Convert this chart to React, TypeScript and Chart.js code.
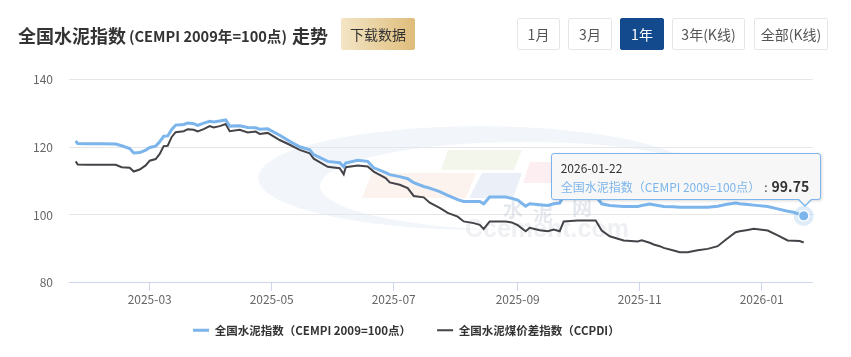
import React, { useEffect, useRef } from "react";
import { Chart, registerables } from "chart.js";

Chart.register(...registerables);

const FONT = '"Noto Sans CJK SC", "Noto Sans", sans-serif';

// ---------------- data ----------------
const dates = [
  "2025-01-23","2025-01-24","2025-01-29","2025-02-05","2025-02-12","2025-02-15","2025-02-19","2025-02-21","2025-02-24","2025-02-27",
  "2025-03-01","2025-03-04","2025-03-06","2025-03-08","2025-03-10","2025-03-12","2025-03-14","2025-03-18","2025-03-20","2025-03-23",
  "2025-03-25","2025-03-28","2025-03-31","2025-04-02","2025-04-05","2025-04-08","2025-04-10","2025-04-15","2025-04-19","2025-04-23",
  "2025-04-25","2025-04-29","2025-05-05","2025-05-10","2025-05-15","2025-05-20","2025-05-22","2025-05-29","2025-06-04","2025-06-06",
  "2025-06-07","2025-06-13","2025-06-18","2025-06-21","2025-06-27","2025-06-29","2025-07-04","2025-07-08","2025-07-11","2025-07-16",
  "2025-07-19","2025-07-24","2025-07-28","2025-08-02","2025-08-05","2025-08-10","2025-08-13","2025-08-15","2025-08-18","2025-08-26",
  "2025-08-29","2025-09-01","2025-09-05","2025-09-07","2025-09-12","2025-09-16","2025-09-19","2025-09-22","2025-09-24","2025-10-01",
  "2025-10-10","2025-10-13","2025-10-17","2025-10-24","2025-10-31","2025-11-02","2025-11-06","2025-11-08","2025-11-11","2025-11-13",
  "2025-11-18","2025-11-21","2025-11-25","2025-11-30","2025-12-05","2025-12-10","2025-12-14","2025-12-19","2025-12-21","2025-12-25",
  "2025-12-28","2026-01-04","2026-01-09","2026-01-14","2026-01-17","2026-01-20","2026-01-22",
];

const cempi = [
  121.8,121.1,121.0,121.0,120.9,120.4,119.6,118.3,118.4,119.1,
  119.9,120.3,121.6,123.2,123.3,125.2,126.5,126.7,127.1,126.9,
  126.4,127.1,127.6,127.4,127.7,128.0,126.2,126.3,125.8,125.7,
  125.3,125.4,123.5,121.7,120.1,119.2,117.8,115.8,115.4,114.2,
  115.3,116.1,115.8,113.9,112.5,111.9,111.3,110.7,109.5,108.4,
  107.9,106.9,105.8,104.5,104.0,104.0,104.0,103.3,105.3,105.3,
  104.9,104.4,102.6,103.3,103.0,102.8,103.3,103.5,105.6,105.8,
  105.6,103.3,102.8,102.5,102.5,102.8,103.2,103.0,102.7,102.5,
  102.4,102.3,102.3,102.3,102.3,102.6,103.1,103.5,103.3,103.1,
  102.9,102.5,101.8,101.1,100.8,100.2,99.75,
];

const ccpdi = [
  115.8,114.9,114.8,114.8,114.8,114.1,113.9,112.8,113.4,114.6,
  116.0,116.5,118.0,120.3,120.4,123.0,124.4,124.7,125.3,125.1,
  124.6,125.3,126.2,125.8,126.2,126.8,124.7,125.1,124.3,124.6,
  123.9,124.2,122.1,120.7,119.2,118.2,116.6,114.2,113.8,112.0,
  114.1,114.6,114.3,112.8,110.9,109.6,108.9,107.9,105.6,105.2,
  103.6,102.1,100.6,99.5,98.1,97.6,97.1,95.9,98.1,98.1,
  97.8,97.0,95.2,96.2,95.5,95.2,95.7,95.2,98.1,98.4,
  98.4,95.4,93.7,92.5,92.2,92.5,91.8,91.3,90.8,90.3,
  89.5,89.0,89.0,89.6,90.0,90.8,92.7,94.9,95.2,95.6,
  95.9,95.4,94.0,92.5,92.4,92.3,91.9,
];

const seriesNames = ["全国水泥指数（CEMPI 2009=100点）", "全国水泥煤价差指数（CCPDI）"];
const xTickMonths = ["2025-03", "2025-05", "2025-07", "2025-09", "2025-11", "2026-01"];
const yTicks = [80, 100, 120, 140];
const rangeButtons = ["1月", "3月", "1年", "3年(K线)", "全部(K线)"];
const activeRange = "1年";
const titleMain = "全国水泥指数";
const titleSub = "(CEMPI 2009年=100点)";
const titleTail = "走势";
const downloadLabel = "下载数据";

// ---------------- helpers ----------------
const DAY = 86400000;
const toMs = (s: string) => {
  const p = s.split("-").map(Number);
  return Date.UTC(p[0], p[1] - 1, p[2] || 1);
};
const fmtMonth = (v: number) => {
  const d = new Date(v);
  return d.getUTCFullYear() + "-" + String(d.getUTCMonth() + 1).padStart(2, "0");
};
const X_MIN = toMs("2025-01-19") + 0.65 * DAY;
const X_MAX = toMs("2026-01-26") + 0.5 * DAY;

const watermarkPlugin = {
  id: "watermark",
  beforeDatasetsDraw(chart: any) {
    const { ctx } = chart;
    ctx.save();
    ctx.save();
    ctx.beginPath();
    ctx.ellipse(480, 178, 222, 52, 0, 0, Math.PI * 2);
    ctx.clip();
    ctx.beginPath();
    ctx.ellipse(480, 178, 222, 52, 0, 0, Math.PI * 2);
    ctx.moveTo(525 + 205, 186);
    ctx.ellipse(525, 186, 205, 44, 0, 0, Math.PI * 2);
    ctx.fillStyle = "rgba(226,236,247,0.45)";
    ctx.fill("evenodd");
    ctx.restore();
    const poly = (pts: number[][], color: string) => {
      ctx.beginPath();
      ctx.moveTo(pts[0][0], pts[0][1]);
      for (let i = 1; i < pts.length; i++) ctx.lineTo(pts[i][0], pts[i][1]);
      ctx.closePath();
      ctx.fillStyle = color;
      ctx.fill();
    };
    poly([[372, 173], [476, 173], [466, 198], [362, 198]], "rgba(248,222,205,0.35)");
    poly([[448, 150], [522, 150], [514, 170], [441, 170]], "rgba(222,232,205,0.4)");
    poly([[482, 173], [522, 173], [513, 198], [469, 198]], "rgba(210,220,238,0.45)");
    poly([[530, 162], [600, 162], [592, 183], [523, 183]], "rgba(248,210,215,0.35)");
    ctx.fillStyle = "rgba(190,200,215,0.4)";
    ctx.font = "bold 20px " + FONT;
    ctx.textAlign = "center";
    ctx.textBaseline = "middle";
    ctx.fillText("水", 513, 209);
    ctx.fillText("泥", 543, 213);
    ctx.fillText("网", 582, 207);
    ctx.fillStyle = "rgba(200,206,215,0.3)";
    ctx.font = "bold 25px Arial, sans-serif";
    ctx.textAlign = "left";
    ctx.textBaseline = "alphabetic";
    ctx.fillText("Ccement.com", 465, 237);
    ctx.restore();
  },
};

const haloPlugin = {
  id: "halo",
  afterDatasetsDraw(chart: any) {
    const { ctx } = chart;
    chart.getActiveElements().forEach((a: any) => {
      const el = a.element;
      ctx.save();
      ctx.beginPath();
      ctx.arc(el.x, el.y, 10, 0, Math.PI * 2);
      ctx.arc(el.x, el.y, 6, 0, Math.PI * 2, true);
      ctx.fillStyle = "rgba(124,181,236,0.25)";
      ctx.fill();
      ctx.restore();
    });
  },
};

// lift the legend so the x-axis label band can stay tall enough not to clip its labels
const legendShiftPlugin = {
  id: "legendShift",
  afterLayout(chart: any) {
    const lg = chart.legend;
    if (lg) {
      lg.top -= 8.3;
      lg.bottom -= 8.3;
    }
  },
};

export default function App() {
  const canvasRef = useRef<HTMLCanvasElement | null>(null);
  const tipRef = useRef<HTMLDivElement | null>(null);
  const tipHeadRef = useRef<HTMLDivElement | null>(null);
  const tipNameRef = useRef<HTMLSpanElement | null>(null);
  const tipValRef = useRef<HTMLSpanElement | null>(null);

  useEffect(() => {
    const canvas = canvasRef.current;
    if (!canvas) return;
    Chart.defaults.font.family = FONT;

    const chart = new Chart(canvas, {
      type: "line",
      data: {
        datasets: [
          {
            label: seriesNames[0],
            data: dates.map((d, i) => ({ x: toMs(d), y: cempi[i] })),
            borderColor: "#7cb5ec",
            backgroundColor: "#7cb5ec",
            borderWidth: 3,
            pointRadius: 0,
            pointHoverRadius: 5,
            pointHoverBackgroundColor: "#7cb5ec",
            pointHoverBorderColor: "#ffffff",
            pointHoverBorderWidth: 1,
            tension: 0,
            order: 0,
          },
          {
            label: seriesNames[1],
            data: dates.map((d, i) => ({ x: toMs(d), y: ccpdi[i] })),
            borderColor: "#434348",
            backgroundColor: "#434348",
            borderWidth: 2,
            pointRadius: 0,
            pointHoverRadius: 0,
            tension: 0,
            order: 1,
          },
        ],
      },
      options: {
        animation: false,
        responsive: false,
        events: [],
        layout: { padding: { left: 0, right: 38.3, top: 79.3, bottom: 2.7 } },
        scales: {
          x: {
            type: "linear",
            min: X_MIN,
            max: X_MAX,
            afterBuildTicks: (s: any) => {
              s.ticks = xTickMonths.map((m) => ({ value: toMs(m + "-01") }));
            },
            afterFit: (s: any) => {
              s.height = 24;
            },
            ticks: {
              callback: (v: any) => fmtMonth(Number(v)),
              color: "#666666",
              font: { size: 12 },
              maxRotation: 0,
              autoSkip: false,
              padding: 1,
            },
            grid: {
              drawOnChartArea: false,
              drawTicks: true,
              tickLength: 8,
              color: "#ccd6eb",
            },
            border: { color: "#ccd6eb" },
          },
          y: {
            min: 80,
            max: 140,
            afterBuildTicks: (s: any) => {
              s.ticks = yTicks.map((v) => ({ value: v }));
            },
            afterFit: (s: any) => {
              s.width = 69;
            },
            ticks: { color: "#666666", font: { size: 12 }, padding: 16 },
            grid: { color: "#e6e6e6", drawTicks: false },
            border: { display: false },
          },
        },
        plugins: {
          legend: {
            position: "bottom",
            labels: {
              usePointStyle: true,
              pointStyle: "line",
              pointStyleWidth: 16,
              color: "#333333",
              font: { size: 11.5, weight: "bold" },
              padding: 26,
            },
          },
          tooltip: {
            enabled: false,
            external: (context: any) => {
              const tt = context.tooltip;
              const tip = tipRef.current;
              if (!tip) return;
              if (!tt || tt.opacity === 0 || !tt.dataPoints || !tt.dataPoints.length) {
                tip.style.display = "none";
                return;
              }
              const dp = tt.dataPoints[0];
              if (tipHeadRef.current) tipHeadRef.current.textContent = dates[dp.dataIndex];
              if (tipNameRef.current) tipNameRef.current.textContent = dp.dataset.label;
              if (tipValRef.current) tipValRef.current.textContent = String(dp.parsed.y);
              tip.style.display = "block";
              tip.style.left = tt.caretX - 253 + "px";
              tip.style.top = tt.caretY - 63 + "px";
            },
          },
        },
      },
      plugins: [watermarkPlugin, haloPlugin, legendShiftPlugin],
    } as any);

    const last = dates.length - 1;
    const el: any = chart.getDatasetMeta(0).data[last];
    chart.setActiveElements([{ datasetIndex: 0, index: last }]);
    chart.tooltip?.setActiveElements([{ datasetIndex: 0, index: last }], { x: el.x, y: el.y });
    chart.update();

    return () => chart.destroy();
  }, []);

  const btnBase: React.CSSProperties = {
    position: "absolute",
    top: 18,
    height: 32,
    boxSizing: "border-box",
    border: "1px solid #e6e6e6",
    borderRadius: 2,
    display: "flex",
    alignItems: "center",
    justifyContent: "center",
    fontSize: 14,
    color: "#555",
    background: "#fff",
    whiteSpace: "nowrap",
  };
  const btnPos = [
    { left: 517, width: 43 },
    { left: 568, width: 44 },
    { left: 620, width: 44 },
    { left: 672, width: 73 },
    { left: 754, width: 74 },
  ];

  return (
    <div
      style={{
        position: "absolute",
        left: 0,
        top: 0,
        width: 851,
        height: 357,
        background: "#fff",
        fontFamily: FONT,
        overflow: "hidden",
      }}
    >
      <canvas ref={canvasRef} width={851} height={357} style={{ position: "absolute", left: 0, top: 0 }} />
      <div
        style={{
          position: "absolute",
          left: 18,
          top: 20,
          height: 30,
          display: "flex",
          alignItems: "center",
          whiteSpace: "nowrap",
          color: "#333",
          fontWeight: "bold",
        }}
      >
        <span style={{ fontSize: 18 }}>{titleMain}</span>
        <span style={{ fontSize: 14.6, marginLeft: 3 }}>{titleSub}</span>
        <span style={{ fontSize: 18, marginLeft: 5 }}>{titleTail}</span>
      </div>
      <div
        style={{
          position: "absolute",
          left: 341,
          top: 18,
          width: 74,
          height: 32,
          borderRadius: 2,
          background: "linear-gradient(to right, #f3e5c6, #dfbd7b)",
          display: "flex",
          alignItems: "center",
          justifyContent: "center",
          fontSize: 14,
          color: "#333",
        }}
      >
        {downloadLabel}
      </div>
      {rangeButtons.map((b, i) => (
        <div
          key={b}
          style={{
            ...btnBase,
            ...btnPos[i],
            ...(b === activeRange
              ? { background: "#134a8e", color: "#fff", border: "1px solid #134a8e" }
              : {}),
          }}
        >
          {b}
        </div>
      ))}
      <div
        ref={tipRef}
        style={{
          position: "absolute",
          display: "none",
          width: 270,
          height: 47,
          boxSizing: "border-box",
          background: "#f7f7f7",
          border: "1px solid #7cb5ec",
          borderRadius: 3,
          boxShadow: "1px 1px 3px rgba(0,0,0,0.15)",
          padding: "6px 0 0 9px",
          whiteSpace: "nowrap",
          color: "#333",
          pointerEvents: "none",
        }}
      >
        <div ref={tipHeadRef} style={{ fontSize: 12, lineHeight: "16px" }} />
        <div style={{ fontSize: 12, lineHeight: "20px" }}>
          <span ref={tipNameRef} style={{ color: "#7cb5ec" }} />
          <span style={{ color: "#333", margin: "0 4px" }}>:</span>
          <span ref={tipValRef} style={{ fontWeight: "bold", color: "#333", fontSize: 14 }} />
        </div>
        <div
          style={{
            position: "absolute",
            left: 245,
            bottom: -8,
            width: 0,
            height: 0,
            borderLeft: "8px solid transparent",
            borderRight: "8px solid transparent",
            borderTop: "8px solid #7cb5ec",
          }}
        />
        <div
          style={{
            position: "absolute",
            left: 246,
            bottom: -6,
            width: 0,
            height: 0,
            borderLeft: "7px solid transparent",
            borderRight: "7px solid transparent",
            borderTop: "7px solid #f7f7f7",
          }}
        />
      </div>
    </div>
  );
}
